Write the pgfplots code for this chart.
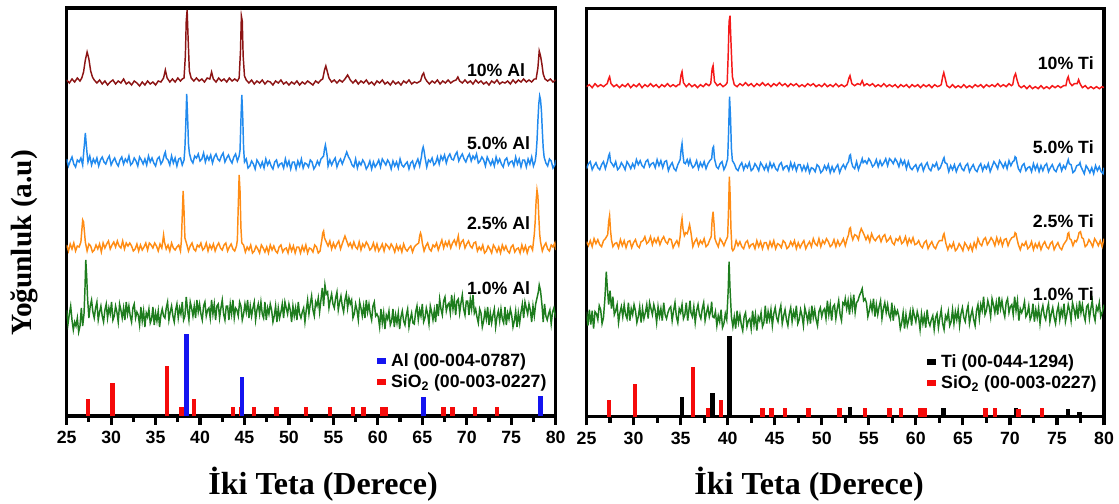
\documentclass[border=0pt]{standalone}
\usepackage{fontspec}
\setmainfont{Liberation Serif}
\setsansfont{Liberation Sans}
\usepackage{pgfplots}
\pgfplotsset{compat=1.18}
\definecolor{cDR}{RGB}{140,20,20}
\definecolor{cBL}{RGB}{33,138,238}
\definecolor{cOR}{RGB}{255,140,20}
\definecolor{cGR}{RGB}{30,125,30}
\definecolor{cRD}{RGB}{245,25,25}
\definecolor{cAl}{RGB}{20,20,240}
\definecolor{cSi}{RGB}{245,10,10}
\newcommand{\lblfont}{\sffamily\bfseries\fontsize{13.3}{15}\selectfont}
\pgfplotsset{
  xrd/.style={
    scale only axis, height=306pt,
    xmin=25, xmax=80, ymin=0, ymax=408,
    ytick=\empty,
    xtick={25,30,35,40,45,50,55,60,65,70,75,80},
    minor xtick={27.5,32.5,37.5,42.5,47.5,52.5,57.5,62.5,67.5,72.5,77.5},
    xtick pos=left, tick align=outside,
    major tick length=6.5pt, minor tick length=4.5pt,
    tick style={line width=2.4pt, black},
    separate axis lines,
    axis line style={line width=2.6pt, line cap=rect},
    xticklabel shift={1.5pt},
    xticklabel style={font=\lblfont},
    /pgf/number format/assume math mode=true,
    legend style={draw=none, fill=none, font=\lblfont, inner sep=0pt, row sep=1.5pt,
      nodes={inner sep=1.5pt}},
    legend image code/.code={\draw[line width=4.5pt] (0pt,0pt) -- (6.75pt,0pt);},
    legend cell align=left,
  },
  trace/.style={line width=1.1pt, mark=none, forget plot},
  stick/.style={ycomb, line width=3.3pt, mark=none},
}
\begin{document}
\begin{tikzpicture}
\useasboundingbox (0pt,0pt) rectangle (839.25pt,-377.25pt);
% ================= LEFT PANEL =================
\begin{axis}[xrd, width=366.75pt, at={(50pt,-312pt)}, anchor=south west,
  legend style={at={(0.628,0.158)}, anchor=north west}, reverse legend]
% 1.0% Al
\addplot[trace, cGR] coordinates {(25.00,106)(25.15,92)(25.30,102)(25.45,110)(25.60,96)(25.75,86)(25.90,94)(26.05,90)(26.20,98)(26.35,84)(26.50,90)(26.65,108)(26.80,90)(26.95,102)(27.05,125)(27.15,156)(27.25,140)(27.35,118)(27.50,98)(27.65,110)(27.80,116)(27.95,104)(28.10,98)(28.25,108)(28.40,114)(28.55,96)(28.70,104)(28.85,110)(29.00,100)(29.15,94)(29.30,106)(29.45,112)(29.60,98)(29.75,108)(29.90,102)(30.05,114)(30.20,96)(30.35,100)(30.50,110)(30.65,104)(30.80,94)(30.95,112)(31.10,106)(31.25,98)(31.40,108)(31.55,96)(31.70,114)(31.85,102)(32.00,110)(32.15,100)(32.30,94)(32.45,108)(32.60,112)(32.75,98)(32.90,104)(33.05,101)(33.20,91)(33.35,109)(33.50,95)(33.65,105)(33.80,89)(33.95,103)(34.10,99)(34.25,107)(34.40,93)(34.55,97)(34.70,109)(34.85,91)(35.00,103)(35.15,95)(35.30,105)(35.45,89)(35.60,101)(35.75,107)(35.90,100)(36.05,98)(36.20,108)(36.35,114)(36.50,96)(36.65,104)(36.80,110)(36.95,100)(37.10,94)(37.25,106)(37.40,112)(37.55,98)(37.70,108)(37.85,102)(38.00,114)(38.15,96)(38.30,100)(38.45,119)(38.60,106)(38.75,96)(38.90,114)(39.05,108)(39.20,100)(39.35,110)(39.50,98)(39.65,116)(39.80,104)(39.95,112)(40.10,102)(40.25,96)(40.40,110)(40.55,114)(40.70,100)(40.85,106)(41.00,108)(41.15,98)(41.30,116)(41.45,102)(41.60,112)(41.75,96)(41.90,110)(42.05,112)(42.20,98)(42.35,108)(42.50,116)(42.65,102)(42.80,96)(42.95,110)(43.10,110)(43.25,96)(43.40,112)(43.55,102)(43.70,116)(43.85,98)(44.00,108)(44.15,106)(44.30,100)(44.45,114)(44.60,110)(44.75,96)(44.90,102)(45.05,112)(45.20,104)(45.35,116)(45.50,98)(45.65,110)(45.80,100)(45.95,108)(46.10,114)(46.25,96)(46.40,106)(46.55,112)(46.70,102)(46.85,114)(47.00,102)(47.15,98)(47.30,114)(47.45,96)(47.60,108)(47.75,102)(47.90,112)(48.05,106)(48.20,94)(48.35,100)(48.50,110)(48.65,94)(48.80,108)(48.95,98)(49.10,104)(49.25,112)(49.40,98)(49.55,114)(49.70,108)(49.85,102)(50.00,112)(50.15,106)(50.30,94)(50.45,110)(50.60,100)(50.75,108)(50.90,96)(51.05,114)(51.20,102)(51.35,98)(51.50,104)(51.65,108)(51.80,94)(51.95,106)(52.10,116)(52.25,102)(52.40,112)(52.55,120)(52.70,106)(52.85,100)(53.00,114)(53.15,110)(53.30,118)(53.45,104)(53.60,116)(53.75,128)(53.90,110)(54.05,131)(54.20,122)(54.35,124)(54.50,108)(54.65,116)(54.80,122)(54.95,112)(55.10,108)(55.25,118)(55.40,124)(55.55,106)(55.70,114)(55.85,120)(56.00,110)(56.15,104)(56.30,116)(56.45,122)(56.60,108)(56.75,118)(56.90,112)(57.05,116)(57.20,98)(57.35,102)(57.50,112)(57.65,106)(57.80,96)(57.95,114)(58.10,108)(58.25,100)(58.40,110)(58.55,98)(58.70,116)(58.85,104)(59.00,112)(59.15,102)(59.30,96)(59.45,110)(59.60,114)(59.75,100)(59.90,102)(60.05,99)(60.20,89)(60.35,107)(60.50,93)(60.65,103)(60.80,87)(60.95,101)(61.10,97)(61.25,105)(61.40,91)(61.55,95)(61.70,107)(61.85,89)(62.00,101)(62.15,93)(62.30,103)(62.45,87)(62.60,99)(62.75,105)(62.90,95)(63.05,91)(63.20,101)(63.35,107)(63.50,89)(63.65,97)(63.80,103)(63.95,93)(64.10,92)(64.25,104)(64.40,110)(64.55,96)(64.70,106)(64.85,100)(65.00,112)(65.15,94)(65.30,98)(65.45,108)(65.60,102)(65.75,92)(65.90,110)(66.05,104)(66.20,96)(66.35,106)(66.50,94)(66.65,112)(66.80,100)(66.95,117)(67.10,107)(67.25,101)(67.40,115)(67.55,119)(67.70,105)(67.85,111)(68.00,113)(68.15,103)(68.30,121)(68.45,107)(68.60,117)(68.75,101)(68.90,115)(69.05,117)(69.20,103)(69.35,113)(69.50,121)(69.65,107)(69.80,101)(69.95,115)(70.10,115)(70.25,101)(70.40,117)(70.55,107)(70.70,121)(70.85,103)(71.00,107)(71.15,99)(71.30,93)(71.45,107)(71.60,103)(71.75,89)(71.90,95)(72.05,105)(72.20,97)(72.35,109)(72.50,91)(72.65,103)(72.80,93)(72.95,101)(73.10,107)(73.25,89)(73.40,99)(73.55,105)(73.70,95)(73.85,107)(74.00,97)(74.15,93)(74.30,109)(74.45,91)(74.60,103)(74.75,97)(74.90,107)(75.05,101)(75.20,89)(75.35,95)(75.50,105)(75.65,89)(75.80,103)(75.95,93)(76.10,104)(76.25,112)(76.40,98)(76.55,114)(76.70,108)(76.85,102)(77.00,112)(77.15,106)(77.30,94)(77.45,110)(77.60,100)(77.75,112)(77.90,118)(78.05,124)(78.15,131)(78.30,125)(78.45,112)(78.60,94)(78.75,112)(78.90,100)(79.05,96)(79.20,102)(79.35,106)(79.50,92)(79.65,104)(79.80,108)(80.00,98)};
% 2.5% Al
\addplot[trace, cOR] coordinates {(25.0,171)(25.2,165)(25.4,172)(25.6,167)(25.8,173)(26.0,165)(26.2,170)(26.4,169)(26.6,174)(26.7,185)(26.8,196)(26.9,194)(27.0,184)(27.1,174)(27.3,165)(27.5,172)(27.7,170)(27.9,164)(28.1,166)(28.3,171)(28.5,167)(28.7,172)(28.9,164)(29.1,173)(29.3,168)(29.5,172)(29.7,175)(29.9,167)(30.1,171)(30.3,174)(30.5,169)(30.7,175)(30.9,170)(31.1,168)(31.3,175)(31.5,167)(31.7,173)(31.9,170)(32.1,173)(32.3,170)(32.5,165)(32.7,167)(32.9,172)(33.1,165)(33.3,171)(33.5,166)(33.7,169)(33.9,173)(34.1,166)(34.3,173)(34.5,171)(34.7,168)(34.9,173)(35.1,170)(35.3,165)(35.5,172)(35.7,168)(35.8,174)(35.9,181)(36.0,174)(36.2,167)(36.4,171)(36.6,165)(36.8,173)(37.0,168)(37.2,166)(37.4,169)(37.6,171)(37.8,165)(37.9,175)(38.0,200)(38.1,225)(38.2,205)(38.3,178)(38.5,172)(38.7,165)(38.9,170)(39.1,173)(39.3,167)(39.5,165)(39.7,171)(39.9,169)(40.1,173)(40.3,166)(40.5,168)(40.7,173)(40.9,165)(41.1,171)(41.3,167)(41.5,172)(41.7,165)(41.9,170)(42.1,173)(42.3,168)(42.5,166)(42.7,171)(42.9,173)(43.1,165)(43.3,169)(43.5,172)(43.7,167)(43.9,165)(44.1,170)(44.2,176)(44.3,210)(44.4,241)(44.5,225)(44.6,188)(44.7,173)(44.9,171)(45.1,164)(45.3,169)(45.5,166)(45.7,171)(45.9,163)(46.1,165)(46.3,170)(46.5,167)(46.7,163)(46.9,171)(47.1,168)(47.3,164)(47.5,169)(47.7,163)(47.9,171)(48.1,166)(48.3,170)(48.5,165)(48.7,163)(48.9,169)(49.1,171)(49.3,164)(49.5,167)(49.7,168)(49.9,163)(50.1,171)(50.3,165)(50.5,170)(50.7,163)(50.9,169)(51.1,169)(51.3,163)(51.5,170)(51.7,165)(51.9,171)(52.1,163)(52.3,168)(52.5,167)(52.7,164)(52.9,171)(53.1,169)(53.3,163)(53.5,165)(53.7,176)(53.8,183)(53.9,185)(54.0,178)(54.2,174)(54.4,170)(54.6,175)(54.8,167)(55.0,173)(55.2,168)(55.4,172)(55.6,175)(55.8,167)(56.1,175)(56.3,180)(56.5,175)(56.7,170)(56.9,173)(57.1,168)(57.3,174)(57.5,169)(57.7,167)(57.9,174)(58.1,166)(58.3,172)(58.5,169)(58.7,174)(58.9,171)(59.1,166)(59.3,168)(59.5,173)(59.7,166)(59.9,172)(60.1,165)(60.3,168)(60.5,172)(60.7,165)(60.9,172)(61.1,170)(61.3,167)(61.5,172)(61.7,169)(61.9,164)(62.1,171)(62.3,166)(62.5,170)(62.7,164)(62.9,172)(63.1,167)(63.3,165)(63.5,168)(63.7,170)(63.9,164)(64.1,169)(64.3,171)(64.6,173)(64.7,180)(64.8,183)(64.9,180)(65.0,173)(65.2,165)(65.4,170)(65.6,173)(65.8,167)(66.0,165)(66.2,171)(66.4,169)(66.6,173)(66.8,166)(67.0,171)(67.2,176)(67.4,168)(67.6,174)(67.8,170)(68.0,175)(68.2,168)(68.4,173)(68.6,176)(68.8,171)(69.05,180)(69.2,169)(69.4,174)(69.6,176)(69.8,168)(70.0,172)(70.2,175)(70.4,170)(70.6,168)(70.8,173)(71.0,174)(71.2,165)(71.4,169)(71.6,166)(71.8,171)(72.0,163)(72.2,165)(72.4,170)(72.6,167)(72.8,163)(73.0,171)(73.2,168)(73.4,164)(73.6,169)(73.8,163)(74.0,171)(74.2,166)(74.4,170)(74.6,165)(74.8,163)(75.0,169)(75.2,171)(75.4,164)(75.6,167)(75.8,168)(76.0,163)(76.2,171)(76.4,165)(76.6,170)(76.8,163)(77.0,169)(77.2,170)(77.4,166)(77.5,174)(77.6,182)(77.7,195)(77.8,215)(77.9,226)(78.0,220)(78.1,200)(78.2,182)(78.3,174)(78.5,165)(78.7,170)(78.9,173)(79.1,167)(79.3,165)(79.5,171)(79.7,169)(79.9,173)(80.0,166)};
% 5.0% Al
\addplot[trace, cBL] coordinates {(25.0,257)(25.2,250)(25.4,255)(25.6,259)(25.8,252)(26.0,249)(26.2,256)(26.4,254)(26.6,258)(26.8,251)(26.9,262)(27.0,272)(27.1,283)(27.2,272)(27.3,262)(27.4,254)(27.6,260)(27.8,251)(28.0,257)(28.2,253)(28.4,258)(28.6,250)(28.8,256)(29.0,259)(29.2,254)(29.4,252)(29.6,257)(29.8,260)(30.0,251)(30.2,255)(30.4,258)(30.6,253)(30.8,250)(31.0,256)(31.2,259)(31.4,252)(31.6,257)(31.8,254)(32.0,260)(32.2,251)(32.4,253)(32.6,258)(32.8,255)(33.0,250)(33.2,259)(33.4,256)(33.6,252)(33.8,257)(34.0,251)(34.2,260)(34.4,254)(34.6,258)(34.8,253)(35.0,250)(35.2,257)(35.4,259)(35.6,252)(35.8,255)(36.0,262)(36.1,264)(36.2,258)(36.4,256)(36.6,251)(36.8,260)(37.0,253)(37.2,258)(37.4,250)(37.6,257)(37.8,258)(38.0,251)(38.2,256)(38.3,268)(38.4,292)(38.5,322)(38.6,300)(38.7,272)(38.8,263)(39.0,256)(39.2,253)(39.4,260)(39.6,258)(39.8,262)(40.0,255)(40.2,257)(40.4,263)(40.6,254)(40.8,260)(41.0,256)(41.2,261)(41.4,253)(41.6,259)(41.8,262)(42.0,257)(42.2,255)(42.4,260)(42.6,263)(42.8,254)(43.0,258)(43.2,261)(43.4,256)(43.6,253)(43.8,259)(44.0,262)(44.2,255)(44.4,260)(44.5,266)(44.6,296)(44.7,321)(44.8,300)(44.9,268)(45.0,254)(45.2,257)(45.4,248)(45.6,250)(45.8,255)(46.0,252)(46.2,247)(46.4,256)(46.6,253)(46.8,249)(47.0,254)(47.2,248)(47.4,257)(47.6,251)(47.8,255)(48.0,250)(48.2,247)(48.4,254)(48.6,256)(48.8,249)(49.0,252)(49.2,253)(49.4,248)(49.6,257)(49.8,250)(50.0,255)(50.2,247)(50.4,254)(50.6,254)(50.8,247)(51.0,255)(51.2,250)(51.4,257)(51.6,248)(51.8,253)(52.0,252)(52.2,249)(52.4,256)(52.6,254)(52.8,247)(53.0,250)(53.2,255)(53.4,251)(53.6,257)(53.9,260)(54.0,267)(54.1,271)(54.2,266)(54.3,260)(54.4,250)(54.6,256)(54.8,251)(55.0,255)(55.2,258)(55.4,249)(55.6,254)(55.8,257)(56.0,252)(56.3,259)(56.5,264)(56.7,259)(56.9,256)(57.1,251)(57.3,249)(57.5,257)(57.7,248)(57.9,254)(58.1,251)(58.3,256)(58.5,253)(58.7,247)(58.9,250)(59.1,255)(59.3,247)(59.5,254)(59.7,249)(59.9,252)(60.1,256)(60.3,249)(60.5,257)(60.7,254)(60.9,251)(61.1,256)(61.3,253)(61.5,247)(61.7,255)(61.9,250)(62.1,254)(62.3,248)(62.5,257)(62.7,251)(62.9,249)(63.1,252)(63.3,254)(63.5,247)(63.7,253)(63.9,255)(64.1,248)(64.3,253)(64.5,257)(64.7,250)(64.9,259)(65.0,266)(65.1,269)(65.2,265)(65.3,259)(65.5,249)(65.7,256)(65.9,254)(66.1,258)(66.3,251)(66.5,253)(66.7,259)(66.9,252)(67.1,260)(67.3,256)(67.5,261)(67.7,253)(67.9,259)(68.1,262)(68.3,257)(68.5,256)(68.7,261)(68.9,264)(69.1,255)(69.3,259)(69.5,262)(69.7,257)(69.9,254)(70.1,259)(70.3,262)(70.5,255)(70.7,260)(70.9,257)(71.1,262)(71.3,253)(71.5,255)(71.7,259)(71.9,256)(72.1,250)(72.3,259)(72.5,255)(72.7,251)(72.9,256)(73.1,250)(73.3,259)(73.5,253)(73.7,257)(73.9,252)(74.1,249)(74.3,256)(74.5,258)(74.7,251)(74.9,254)(75.1,255)(75.3,250)(75.5,259)(75.7,252)(75.9,257)(76.1,249)(76.3,256)(76.5,256)(76.7,249)(76.9,257)(77.1,252)(77.3,259)(77.5,250)(77.7,255)(77.8,262)(77.9,275)(78.0,295)(78.1,312)(78.2,320)(78.3,316)(78.4,305)(78.5,285)(78.6,268)(78.7,259)(78.9,253)(79.1,250)(79.3,257)(79.5,255)(79.7,248)(79.9,251)(80.0,256)};
% 10% Al
\addplot[trace, cDR] coordinates {(25.0,336)(25.3,333)(25.6,337)(25.9,334)(26.2,338)(26.5,335)(26.7,338)(26.9,344)(27.1,356)(27.3,364)(27.5,357)(27.7,345)(27.9,339)(28.1,336)(28.4,333)(28.7,336)(29.0,332)(29.3,335)(29.6,331)(29.9,334)(30.2,336)(30.5,332)(30.8,335)(31.1,333)(31.4,337)(31.7,332)(32.0,334)(32.3,331)(32.6,335)(32.9,333)(33.2,330)(33.5,334)(33.8,331)(34.1,335)(34.4,332)(34.7,334)(35.0,331)(35.3,335)(35.6,334)(35.9,338)(36.1,346)(36.3,338)(36.6,334)(36.9,337)(37.2,334)(37.5,338)(37.8,335)(38.0,337)(38.2,338)(38.35,360)(38.45,395)(38.55,406)(38.65,380)(38.8,345)(39.0,338)(39.3,335)(39.6,338)(39.9,335)(40.2,337)(40.5,334)(40.8,338)(41.1,337)(41.3,344)(41.5,337)(41.8,334)(42.1,338)(42.4,335)(42.7,337)(43.0,334)(43.3,338)(43.6,335)(43.9,337)(44.2,335)(44.4,338)(44.55,365)(44.65,400)(44.75,395)(44.85,360)(45.0,340)(45.2,336)(45.5,333)(45.8,336)(46.1,332)(46.4,335)(46.7,333)(47.0,336)(47.3,332)(47.6,335)(47.9,334)(48.2,331)(48.5,335)(48.8,333)(49.1,336)(49.4,332)(49.7,334)(50.0,331)(50.3,334)(50.6,332)(50.9,335)(51.2,331)(51.5,334)(51.8,332)(52.1,335)(52.4,333)(52.7,331)(53.0,335)(53.3,333)(53.6,336)(53.8,337)(54.0,346)(54.15,350)(54.3,345)(54.5,338)(54.8,334)(55.1,336)(55.4,333)(55.7,336)(56.0,334)(56.3,337)(56.6,341)(56.9,336)(57.2,333)(57.5,336)(57.8,332)(58.1,335)(58.4,333)(58.7,336)(59.0,332)(59.3,334)(59.6,331)(59.9,335)(60.2,333)(60.5,336)(60.8,332)(61.1,334)(61.4,331)(61.7,335)(62.0,332)(62.3,334)(62.6,331)(62.9,335)(63.2,333)(63.5,336)(63.8,332)(64.1,334)(64.4,333)(64.8,335)(65.0,341)(65.15,343)(65.3,338)(65.5,335)(65.8,332)(66.1,335)(66.4,333)(66.7,336)(67.0,332)(67.3,335)(67.6,333)(67.9,336)(68.2,333)(68.5,335)(68.8,336)(69.0,339)(69.2,335)(69.5,333)(69.8,336)(70.1,333)(70.4,335)(70.7,332)(71.0,336)(71.3,333)(71.6,335)(71.9,332)(72.2,334)(72.5,331)(72.8,335)(73.1,333)(73.4,336)(73.7,332)(74.0,334)(74.3,333)(74.6,335)(74.9,332)(75.2,336)(75.5,333)(75.8,336)(76.1,334)(76.4,337)(76.7,334)(77.0,336)(77.3,334)(77.6,337)(77.8,337)(78.0,348)(78.15,365)(78.3,360)(78.45,352)(78.6,342)(78.8,337)(79.1,335)(79.4,337)(79.7,334)(80.0,336)};
% reference sticks
\addplot[stick, cSi] coordinates {(27.4,17)(30.15,33)(36.3,50)(37.9,9)(39.3,17)(43.7,9)(44.65,9)(46.1,9)(48.6,9)(51.9,9)(54.6,9)(57.2,9)(58.4,9)(60.45,9)(60.9,9)(67.4,9)(68.4,9)(70.9,9)(73.4,9)};
\addlegendentry{SiO\textsubscript{2} (00-003-0227)}
\addplot[stick, cAl] coordinates {(38.5,82)(44.75,39)(65.15,19)(78.3,20)};
\addlegendentry{Al (00-004-0787)}
\node[anchor=west, inner sep=0pt, font=\lblfont] at (axis cs:70,346) {10\% Al};
\node[anchor=west, inner sep=0pt, font=\lblfont] at (axis cs:70,272.7) {5.0\% Al};
\node[anchor=west, inner sep=0pt, font=\lblfont] at (axis cs:70,192.7) {2.5\% Al};
\node[anchor=west, inner sep=0pt, font=\lblfont] at (axis cs:70,127.7) {1.0\% Al};
\end{axis}
% ================= RIGHT PANEL =================
\begin{axis}[xrd, width=388.1pt, at={(439.9pt,-312.5pt)}, anchor=south west,
  legend style={at={(0.652,0.158)}, anchor=north west}]
% 1.0% Ti
\addplot[trace, cGR] coordinates {(25.00,105)(25.15,91)(25.30,107)(25.45,92)(25.60,106)(25.75,88)(25.90,105)(26.05,103)(26.20,97)(26.35,111)(26.50,107)(26.65,93)(26.80,99)(26.95,118)(27.10,145)(27.20,130)(27.35,112)(27.50,126)(27.65,108)(27.80,120)(27.95,102)(28.10,106)(28.25,112)(28.40,94)(28.55,104)(28.70,110)(28.85,100)(29.00,112)(29.15,102)(29.30,98)(29.45,114)(29.60,96)(29.75,108)(29.90,102)(30.05,112)(30.20,106)(30.35,94)(30.50,100)(30.65,110)(30.80,94)(30.95,108)(31.10,98)(31.25,104)(31.40,112)(31.55,98)(31.70,114)(31.85,108)(32.00,102)(32.15,112)(32.30,106)(32.45,94)(32.60,110)(32.75,100)(32.90,108)(33.05,96)(33.20,114)(33.35,102)(33.50,98)(33.65,104)(33.80,108)(33.95,110)(34.10,96)(34.25,106)(34.40,114)(34.55,100)(34.70,94)(34.85,108)(35.00,104)(35.15,112)(35.30,98)(35.45,102)(35.60,114)(35.75,96)(35.90,108)(36.00,116)(36.10,104)(36.25,100)(36.40,110)(36.55,94)(36.70,106)(36.85,112)(37.00,102)(37.15,98)(37.30,108)(37.45,114)(37.60,96)(37.75,104)(37.90,110)(38.05,100)(38.20,106)(38.30,115)(38.40,100)(38.55,99)(38.70,105)(38.85,91)(39.00,101)(39.15,95)(39.30,107)(39.45,89)(39.60,93)(39.75,103)(39.90,97)(40.05,125)(40.15,155)(40.25,128)(40.40,100)(40.55,90)(40.70,100)(40.85,88)(41.00,106)(41.15,94)(41.30,102)(41.45,92)(41.60,86)(41.75,100)(41.90,104)(42.05,90)(42.20,96)(42.35,98)(42.50,88)(42.65,106)(42.80,92)(42.95,102)(43.10,86)(43.25,100)(43.40,96)(43.55,104)(43.70,90)(43.85,94)(44.00,111)(44.15,93)(44.30,105)(44.45,97)(44.60,107)(44.75,91)(44.90,103)(45.05,109)(45.20,99)(45.35,95)(45.50,105)(45.65,111)(45.80,93)(45.95,101)(46.10,107)(46.25,97)(46.40,91)(46.55,103)(46.70,109)(46.85,95)(47.00,105)(47.15,99)(47.30,111)(47.45,93)(47.60,97)(47.75,107)(47.90,101)(48.05,91)(48.20,109)(48.35,103)(48.50,95)(48.65,105)(48.80,93)(48.95,111)(49.10,99)(49.25,107)(49.40,97)(49.55,91)(49.70,105)(49.85,109)(50.00,100)(50.15,106)(50.30,108)(50.45,98)(50.60,116)(50.75,102)(50.90,112)(51.05,96)(51.20,110)(51.35,112)(51.50,98)(51.65,108)(51.80,116)(51.95,102)(52.10,96)(52.25,114)(52.40,112)(52.50,118)(52.65,108)(52.80,116)(52.95,102)(53.10,118)(53.25,108)(53.40,122)(53.55,104)(53.70,114)(53.85,116)(54.00,121)(54.15,124)(54.30,128)(54.45,116)(54.60,118)(54.75,114)(54.90,100)(55.05,106)(55.20,114)(55.35,106)(55.50,118)(55.65,100)(55.80,112)(55.95,102)(56.10,110)(56.25,116)(56.40,98)(56.55,108)(56.70,114)(56.85,104)(57.00,112)(57.15,102)(57.30,98)(57.45,114)(57.60,96)(57.75,108)(57.90,102)(58.05,106)(58.20,100)(58.35,88)(58.50,94)(58.65,104)(58.80,88)(58.95,102)(59.10,91)(59.25,97)(59.40,105)(59.55,91)(59.70,107)(59.85,101)(60.00,95)(60.15,105)(60.30,99)(60.45,87)(60.60,103)(60.75,93)(60.90,101)(61.05,89)(61.20,107)(61.35,95)(61.50,91)(61.65,97)(61.80,101)(61.95,87)(62.10,99)(62.25,103)(62.40,89)(62.55,99)(62.70,107)(62.85,93)(63.00,87)(63.15,101)(63.30,97)(63.45,105)(63.60,91)(63.75,95)(63.90,107)(64.05,93)(64.20,105)(64.35,97)(64.50,107)(64.65,91)(64.80,103)(64.95,109)(65.10,99)(65.25,95)(65.40,105)(65.55,111)(65.70,93)(65.85,101)(66.00,107)(66.15,97)(66.30,91)(66.45,106)(66.60,112)(66.75,98)(66.90,112)(67.05,106)(67.20,120)(67.35,102)(67.50,106)(67.65,116)(67.80,110)(67.95,100)(68.10,118)(68.25,112)(68.40,104)(68.55,114)(68.70,102)(68.85,120)(69.00,108)(69.15,116)(69.30,106)(69.45,100)(69.60,114)(69.75,118)(69.90,104)(70.05,110)(70.20,112)(70.35,102)(70.50,120)(70.65,106)(70.80,116)(70.95,96)(71.10,108)(71.25,104)(71.40,108)(71.55,115)(71.70,100)(71.85,103)(72.00,111)(72.15,97)(72.30,101)(72.45,113)(72.60,95)(72.75,107)(72.90,99)(73.05,109)(73.20,93)(73.35,105)(73.50,111)(73.65,101)(73.80,97)(73.95,107)(74.10,113)(74.25,95)(74.40,103)(74.55,109)(74.70,99)(74.85,93)(75.00,105)(75.15,111)(75.30,97)(75.45,107)(75.60,101)(75.75,113)(75.90,95)(76.05,102)(76.20,112)(76.35,106)(76.50,96)(76.65,114)(76.80,108)(76.95,100)(77.10,110)(77.25,98)(77.40,116)(77.55,104)(77.70,112)(77.85,102)(78.00,96)(78.15,110)(78.30,112)(78.45,98)(78.60,108)(78.75,116)(78.90,102)(79.05,96)(79.20,110)(79.35,106)(79.50,114)(79.65,100)(79.80,104)(80.00,112)};
% 2.5% Ti
\addplot[trace, cOR] coordinates {(25.0,175)(25.2,171)(25.4,176)(25.6,170)(25.8,178)(26.0,173)(26.2,177)(26.4,172)(26.6,170)(26.8,176)(27.0,178)(27.25,182)(27.35,195)(27.45,201)(27.55,186)(27.65,177)(27.8,170)(28.0,173)(28.2,174)(28.4,169)(28.6,177)(28.8,171)(29.0,176)(29.2,169)(29.4,175)(29.6,176)(29.8,169)(30.0,174)(30.2,177)(30.4,171)(30.6,169)(30.8,175)(31.0,176)(31.2,180)(31.4,173)(31.6,175)(31.8,180)(32.0,172)(32.2,178)(32.4,174)(32.6,179)(32.8,172)(33.0,177)(33.2,180)(33.4,175)(33.6,173)(33.8,178)(34.0,177)(34.2,169)(34.4,173)(34.6,176)(34.8,171)(34.95,180)(35.05,192)(35.15,198)(35.25,188)(35.4,181)(35.55,184)(35.7,183)(35.8,186)(35.95,192)(36.1,184)(36.3,170)(36.5,175)(36.7,178)(36.9,171)(37.1,176)(37.3,173)(37.5,178)(37.7,170)(37.9,172)(38.1,177)(38.25,180)(38.35,197)(38.45,205)(38.55,193)(38.65,178)(38.8,174)(39.0,170)(39.2,178)(39.4,175)(39.6,171)(39.8,176)(40.0,180)(40.1,210)(40.18,240)(40.26,222)(40.35,188)(40.45,168)(40.55,166)(40.7,168)(40.9,176)(41.1,171)(41.3,175)(41.5,170)(41.7,168)(41.9,174)(42.1,176)(42.3,169)(42.5,172)(42.7,173)(42.9,168)(43.1,176)(43.3,170)(43.5,175)(43.7,168)(43.9,174)(44.1,174)(44.3,168)(44.5,175)(44.7,170)(44.9,176)(45.1,168)(45.3,173)(45.5,172)(45.7,169)(45.9,176)(46.1,174)(46.3,168)(46.5,170)(46.7,175)(46.9,171)(47.1,176)(47.3,168)(47.5,174)(47.7,169)(47.9,173)(48.1,176)(48.3,168)(48.5,172)(48.7,175)(48.9,170)(49.1,178)(49.3,173)(49.5,171)(49.7,178)(49.9,170)(50.1,176)(50.3,173)(50.5,178)(50.7,175)(50.9,170)(51.1,172)(51.3,177)(51.5,170)(51.7,176)(51.9,171)(52.1,174)(52.3,178)(52.5,171)(52.7,178)(52.85,182)(52.95,188)(53.05,189)(53.15,182)(53.3,177)(53.5,182)(53.7,181)(53.9,177)(54.05,184)(54.2,188)(54.35,185)(54.5,182)(54.7,177)(54.9,181)(55.1,175)(55.3,183)(55.5,178)(55.7,176)(55.9,179)(56.1,181)(56.3,175)(56.5,180)(56.7,182)(56.9,175)(57.1,177)(57.3,180)(57.5,174)(57.7,172)(57.9,178)(58.1,176)(58.3,180)(58.5,173)(58.7,175)(58.9,180)(59.1,172)(59.3,178)(59.5,174)(59.7,179)(59.9,172)(60.1,173)(60.3,176)(60.5,171)(60.7,169)(60.9,174)(61.1,176)(61.3,168)(61.5,172)(61.7,175)(61.9,170)(62.1,168)(62.3,173)(62.5,176)(62.8,176)(62.9,181)(63.0,183)(63.1,178)(63.2,173)(63.4,167)(63.6,172)(63.8,169)(64.0,174)(64.2,166)(64.4,168)(64.6,173)(64.8,170)(65.0,166)(65.2,174)(65.4,171)(65.6,167)(65.8,172)(66.0,166)(66.2,174)(66.4,169)(66.6,178)(66.8,173)(67.0,171)(67.2,177)(67.4,179)(67.6,172)(67.8,175)(68.0,179)(68.2,176)(68.4,171)(68.6,179)(68.8,173)(69.0,178)(69.2,171)(69.4,177)(69.6,178)(69.8,171)(70.0,176)(70.2,179)(70.45,180)(70.55,184)(70.65,183)(70.75,178)(70.9,172)(71.1,167)(71.3,173)(71.5,171)(71.7,175)(71.9,168)(72.1,170)(72.3,175)(72.5,167)(72.7,173)(72.9,169)(73.1,174)(73.3,167)(73.5,172)(73.7,175)(73.9,170)(74.1,168)(74.3,173)(74.5,175)(74.7,167)(74.9,171)(75.1,174)(75.3,169)(75.5,167)(75.7,172)(76.05,177)(76.15,183)(76.25,184)(76.35,178)(76.5,177)(76.7,171)(76.9,176)(77.05,175)(77.2,178)(77.35,184)(77.5,185)(77.65,179)(77.8,178)(78.0,170)(78.2,172)(78.4,177)(78.6,174)(78.8,170)(79.0,178)(79.2,175)(79.4,171)(79.6,176)(79.8,170)(80.0,178)};
% 5.0% Ti
\addplot[trace, cBL] coordinates {(25.0,248)(25.2,253)(25.4,255)(25.6,247)(25.8,251)(26.0,254)(26.2,249)(26.4,247)(26.6,252)(26.8,255)(27.0,248)(27.25,256)(27.35,261)(27.45,263)(27.55,255)(27.7,253)(27.9,250)(28.1,255)(28.3,247)(28.5,249)(28.7,254)(28.9,251)(29.1,247)(29.3,255)(29.5,252)(29.7,248)(29.9,253)(30.1,249)(30.3,257)(30.5,252)(30.7,256)(30.9,251)(31.1,249)(31.3,255)(31.5,257)(31.7,250)(31.9,253)(32.1,254)(32.3,249)(32.5,257)(32.7,251)(32.9,256)(33.1,249)(33.3,255)(33.5,256)(33.7,246)(33.9,251)(34.1,254)(34.3,248)(34.5,246)(34.7,252)(34.95,257)(35.05,267)(35.15,273)(35.25,262)(35.35,254)(35.5,253)(35.7,257)(35.85,252)(36.0,257)(36.15,252)(36.3,249)(36.5,251)(36.7,256)(36.9,248)(37.1,254)(37.3,250)(37.5,255)(37.7,248)(37.9,253)(38.1,256)(38.3,258)(38.4,268)(38.5,270)(38.6,258)(38.8,250)(39.0,248)(39.2,253)(39.4,255)(39.6,247)(39.8,251)(40.0,258)(40.1,285)(40.2,320)(40.3,300)(40.4,268)(40.5,256)(40.7,253)(40.9,248)(41.1,246)(41.3,251)(41.5,254)(41.7,247)(41.9,252)(42.1,249)(42.3,254)(42.5,246)(42.7,248)(42.9,253)(43.1,250)(43.3,246)(43.5,254)(43.7,251)(43.9,247)(44.1,252)(44.3,246)(44.5,254)(44.7,249)(44.9,253)(45.1,248)(45.3,246)(45.5,252)(45.7,254)(45.9,247)(46.1,250)(46.3,251)(46.5,246)(46.7,254)(46.9,248)(47.1,253)(47.3,246)(47.5,252)(47.7,252)(47.9,246)(48.1,251)(48.3,246)(48.5,252)(48.7,244)(48.9,249)(49.1,248)(49.3,245)(49.5,252)(49.7,250)(49.9,244)(50.1,246)(50.3,251)(50.5,247)(50.7,252)(50.9,244)(51.1,250)(51.3,245)(51.5,249)(51.7,252)(51.9,244)(52.1,249)(52.3,252)(52.5,248)(52.7,253)(52.85,255)(52.95,261)(53.05,262)(53.15,255)(53.3,250)(53.5,248)(53.7,255)(53.9,247)(54.2,255)(54.3,258)(54.4,254)(54.6,256)(54.8,253)(55.0,258)(55.2,255)(55.4,250)(55.6,252)(55.8,257)(56.0,250)(56.2,256)(56.4,251)(56.6,254)(56.8,258)(57.0,251)(57.2,258)(57.4,256)(57.6,253)(57.8,258)(58.0,255)(58.2,250)(58.4,257)(58.6,252)(58.8,256)(59.0,248)(59.2,255)(59.4,249)(59.6,247)(59.8,250)(60.0,252)(60.2,246)(60.4,251)(60.6,253)(60.8,246)(61.0,251)(61.2,254)(61.4,248)(61.6,246)(61.8,252)(62.0,250)(62.2,254)(62.4,247)(62.6,249)(62.8,254)(62.9,257)(63.0,259)(63.1,254)(63.3,253)(63.5,245)(63.7,251)(63.9,247)(64.1,252)(64.3,245)(64.5,250)(64.7,253)(64.9,248)(65.1,246)(65.3,251)(65.5,253)(65.7,245)(65.9,249)(66.1,252)(66.3,247)(66.5,245)(66.7,250)(66.9,253)(67.1,246)(67.3,251)(67.5,248)(67.7,253)(67.9,245)(68.1,250)(68.3,255)(68.5,252)(68.7,248)(68.9,256)(69.1,253)(69.3,249)(69.5,254)(69.7,248)(69.9,256)(70.1,251)(70.3,255)(70.45,256)(70.55,260)(70.65,259)(70.75,254)(70.9,248)(71.1,245)(71.3,251)(71.5,253)(71.7,246)(71.9,249)(72.1,250)(72.3,245)(72.5,253)(72.7,247)(72.9,252)(73.1,245)(73.3,251)(73.5,246)(73.7,251)(73.9,253)(74.1,245)(74.3,249)(74.5,252)(74.7,247)(74.9,245)(75.1,250)(75.3,253)(75.5,246)(75.7,251)(75.9,248)(76.1,254)(76.2,257)(76.3,253)(76.5,252)(76.7,244)(76.9,246)(77.1,251)(77.35,252)(77.45,254)(77.55,250)(77.7,247)(77.9,243)(78.1,251)(78.3,248)(78.5,244)(78.7,249)(78.9,243)(79.1,251)(79.3,246)(79.5,250)(79.7,245)(79.9,243)(80.0,249)};
% 10% Ti
\addplot[trace, cRD] coordinates {(25.0,330)(25.3,332)(25.6,329)(25.9,333)(26.2,330)(26.5,332)(26.8,330)(27.05,332)(27.2,333)(27.35,338)(27.45,340)(27.6,333)(27.9,330)(28.2,332)(28.5,329)(28.8,332)(29.1,330)(29.4,333)(29.7,329)(30.0,332)(30.3,330)(30.6,333)(30.9,329)(31.2,332)(31.5,330)(31.8,333)(32.1,330)(32.4,332)(32.7,329)(33.0,332)(33.3,330)(33.6,333)(33.9,330)(34.2,332)(34.5,330)(34.75,332)(34.9,332)(35.05,342)(35.15,345)(35.3,334)(35.6,330)(35.9,333)(36.2,330)(36.5,332)(36.8,329)(37.1,332)(37.4,330)(37.7,333)(38.0,331)(38.2,333)(38.35,348)(38.45,351)(38.6,335)(38.9,331)(39.2,333)(39.5,330)(39.8,332)(39.95,334)(40.05,360)(40.15,395)(40.25,401)(40.35,375)(40.5,340)(40.7,332)(41.0,330)(41.3,333)(41.6,331)(41.9,334)(42.2,331)(42.5,333)(42.8,330)(43.1,333)(43.4,331)(43.7,334)(44.0,331)(44.3,333)(44.6,330)(44.9,333)(45.2,331)(45.5,334)(45.8,331)(46.1,333)(46.4,330)(46.7,333)(47.0,331)(47.3,333)(47.6,330)(47.9,332)(48.2,330)(48.5,333)(48.8,331)(49.1,333)(49.4,330)(49.7,332)(50.0,330)(50.3,333)(50.6,330)(50.9,332)(51.2,330)(51.5,333)(51.8,330)(52.1,332)(52.4,330)(52.7,332)(52.9,339)(53.0,341)(53.2,333)(53.5,331)(53.8,333)(54.1,332)(54.3,336)(54.5,331)(54.8,333)(55.1,331)(55.4,333)(55.7,330)(56.0,332)(56.3,330)(56.6,333)(56.9,330)(57.2,332)(57.5,330)(57.8,332)(58.1,329)(58.4,332)(58.7,330)(59.0,332)(59.3,329)(59.6,332)(59.9,330)(60.2,332)(60.5,329)(60.8,332)(61.1,330)(61.4,332)(61.7,329)(62.0,332)(62.3,330)(62.55,331)(62.7,332)(62.85,340)(62.97,344)(63.1,339)(63.3,331)(63.6,329)(63.9,332)(64.2,329)(64.5,331)(64.8,329)(65.1,332)(65.4,329)(65.7,331)(66.0,329)(66.3,332)(66.6,330)(66.9,332)(67.2,329)(67.5,332)(67.8,330)(68.1,332)(68.4,330)(68.7,333)(69.0,330)(69.3,332)(69.6,330)(69.9,333)(70.15,331)(70.3,332)(70.45,340)(70.6,343)(70.75,337)(70.95,331)(71.2,329)(71.5,331)(71.8,328)(72.1,331)(72.4,328)(72.7,330)(73.0,328)(73.3,331)(73.6,328)(73.9,330)(74.2,328)(74.5,331)(74.8,329)(75.1,331)(75.4,329)(75.7,331)(75.95,331)(76.1,338)(76.2,340)(76.35,334)(76.6,331)(76.85,333)(77.15,333)(77.3,337)(77.45,333)(77.7,329)(78.0,331)(78.3,328)(78.6,330)(78.9,328)(79.2,330)(79.5,328)(79.8,330)(80.0,329)};
% reference sticks
\addplot[stick, black] coordinates {(35.13,20)(38.4,24)(40.2,81)(52.98,10)(62.94,9)(70.67,9)(76.2,8)(77.4,5)};
\addlegendentry{Ti (00-044-1294)}
\addplot[stick, cSi] coordinates {(27.4,17)(30.15,33)(36.3,50)(37.9,9)(39.3,17)(43.7,9)(44.65,9)(46.1,9)(48.6,9)(51.9,9)(54.6,9)(57.2,9)(58.4,9)(60.45,9)(60.9,9)(67.4,9)(68.4,9)(70.9,8)(73.4,9)};
\addlegendentry{SiO\textsubscript{2} (00-003-0227)}
\node[anchor=east, inner sep=0pt, font=\lblfont] at (axis cs:78.93,354) {10\% Ti};
\node[anchor=east, inner sep=0pt, font=\lblfont] at (axis cs:78.93,269.5) {5.0\% Ti};
\node[anchor=east, inner sep=0pt, font=\lblfont] at (axis cs:78.93,196) {2.5\% Ti};
\node[anchor=east, inner sep=0pt, font=\lblfont] at (axis cs:78.93,123) {1.0\% Ti};
\end{axis}
% axis titles
\node[rotate=90, font=\bfseries\fontsize{22}{26}\selectfont, inner sep=0pt] at (18pt,-182.25pt) {Yoğunluk (a.u)};
\node[anchor=base, font=\bfseries\fontsize{24}{28}\selectfont, inner sep=0pt] at (242.25pt,-370.5pt) {İki Teta (Derece)};
\node[anchor=base, font=\bfseries\fontsize{24}{28}\selectfont, inner sep=0pt] at (606.75pt,-370.5pt) {İki Teta (Derece)};
\end{tikzpicture}
\end{document}
